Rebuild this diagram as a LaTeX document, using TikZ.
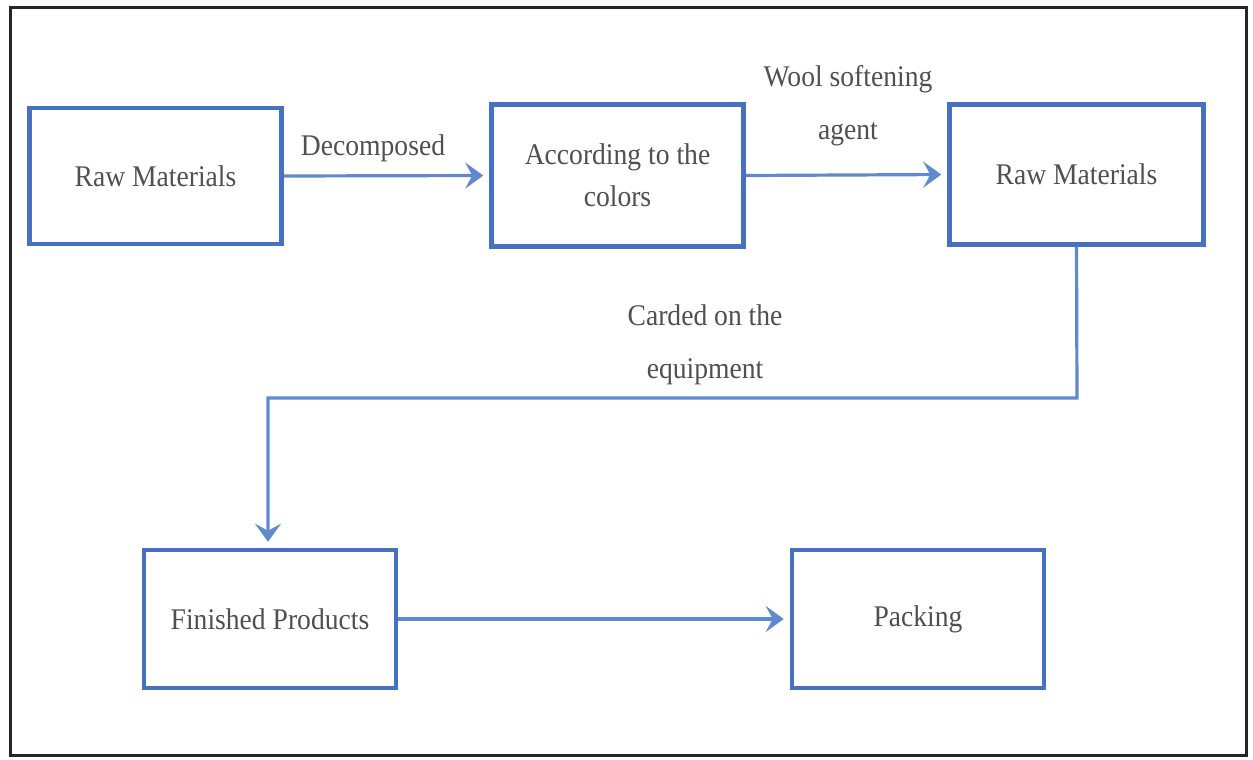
\documentclass[tikz,border=0pt]{standalone}
\usepackage{fontspec}
\setmainfont{Liberation Serif}[FakeStretch=0.92]
\usetikzlibrary{arrows.meta}
\definecolor{boxblue}{RGB}{70,112,192}
\definecolor{arrblue}{RGB}{96,138,208}
\definecolor{txtgray}{RGB}{80,80,80}
\begin{document}
\begin{tikzpicture}[x=1pt,y=-1pt,
  flowbox/.style={draw=boxblue,line width=4.5pt,fill=white,inner sep=0pt,
    minimum width=252pt,minimum height=138pt,text=txtgray,align=center,
    font=\fontsize{30}{42}\selectfont},
  lbl/.style={text=txtgray,align=center,inner sep=0pt,font=\fontsize{30}{53}\selectfont},
  flowarrow/.style={draw=arrblue,line width=3.2pt,
    -{Stealth[length=18pt,width=26pt,inset=7pt]},shorten >=6pt}]
\useasboundingbox (0,0) rectangle (1253,760);
\fill[white] (0,0) rectangle (1253,760);
\draw[black!85,line width=3pt] (10,8) rectangle (1246,755);
\node[flowbox,minimum height=136pt] (b1) at (155.5,176) {Raw Materials};
\node[flowbox,minimum height=142pt] (b2) at (617.5,175.5) {According to the\\colors};
\node[flowbox,minimum width=254pt,minimum height=140pt] (b3) at (1076.5,174.5) {Raw Materials};
\node[flowbox] (b4) at (270,619) {Finished Products};
\node[flowbox] (b5) at (918,619) {Packing};
\coordinate (c1) at (1077,398);
\draw[flowarrow] (b1.east) -- (b2.west);
\draw[flowarrow] (b2.east) -- (b3.west);
\draw[flowarrow] (b3.south) -- (c1) -| ([xshift=-2pt]b4.north);
\draw[flowarrow] (b4.east) -- (b5.west);
\node[lbl] (l1) at (373,148) {Decomposed};
\node[lbl] (l2) at (848,106) {Wool softening\\agent};
\node[lbl] (l3) at (705,345) {Carded on the\\equipment};
\end{tikzpicture}
\end{document}
